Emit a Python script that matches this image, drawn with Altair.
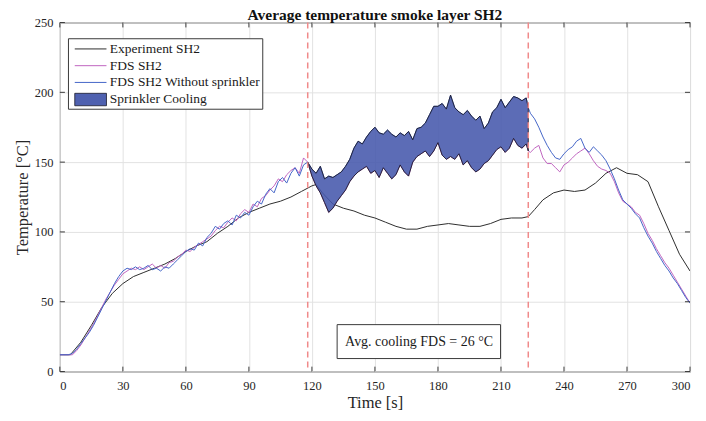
import altair as alt
import pandas as pd

# ---------------- data ----------------
t_fds = list(range(0, 223, 2)) + [223] + list(range(224, 301, 2))

fds_no_sprinkler = [
    12, 12, 12, 13, 16, 20, 24, 28, 33, 39,
    45, 51, 57, 63, 68, 72, 74, 73, 75, 73,
    74, 76, 73, 74, 72, 75, 74, 77, 80, 83,
    86, 88, 87, 92, 90, 96, 99, 104, 102, 106,
    108, 105, 112, 110, 114, 112, 118, 122, 120, 127,
    131, 128, 136, 139, 135, 142, 146, 140, 148, 150,
    145, 142, 147, 138, 140, 139, 141, 143, 147, 152,
    160, 165, 163, 168, 172, 175, 171, 170, 173, 170,
    168, 171, 169, 172, 166, 174, 175, 178, 184, 190,
    190, 192, 188, 198, 189, 186, 184, 187, 183, 180,
    183, 174, 178, 186, 189, 195, 189, 193, 197, 196,
    194, 196,
    189,
    185, 181, 175, 168, 162, 157, 153, 152, 156, 159,
    161, 165, 167, 160, 157, 161, 158, 155, 151, 145,
    138, 130, 123, 120, 117, 113, 110, 103, 97, 92,
    86, 81, 76, 72, 67, 63, 58, 53, 49,
]

fds_sh2 = [
    12, 12, 12, 12, 15, 19, 24, 29, 34, 40,
    46, 52, 57, 62, 66, 70, 72, 74, 73, 75,
    73, 75, 77, 74, 76, 74, 78, 79, 82, 84,
    87, 86, 89, 91, 93, 95, 97, 101, 104, 103,
    107, 110, 108, 113, 116, 114, 120, 118, 124, 126,
    130, 133, 138, 136, 141, 144, 146, 142, 153, 150,
    140, 133, 128, 121, 114, 117, 122, 126, 130, 136,
    140, 143, 145, 147, 142, 144, 139, 146, 142, 138,
    141, 148, 143, 140, 150, 154, 156, 158, 154, 158,
    164, 155, 152, 154, 152, 156, 148, 151, 146, 143,
    145, 149, 151, 155, 159, 161, 157, 160, 167, 162,
    160, 163,
    158,
    157, 160, 162, 153, 149, 149, 146, 143, 148, 150,
    153, 156, 158, 160, 156, 151, 147, 145, 144, 142,
    136, 128, 122, 120, 118, 114, 112, 106, 99, 94,
    88, 83, 78, 74, 69, 64, 59, 54, 49,
]

t_exp = [0, 5, 10, 15, 20, 25, 30, 35, 40, 45, 50, 55, 60, 65, 70, 75, 80, 85,
         90, 95, 100, 105, 110, 115, 120, 122, 125, 130, 135, 140, 145, 150, 155,
         160, 165, 170, 175, 180, 185, 190, 195, 200, 205, 210, 215, 220, 223,
         226, 230, 235, 240, 245, 250, 255, 260, 265, 270, 275, 280, 285, 290,
         295, 300]
exp_sh2 = [12, 12, 21, 33, 46, 56, 63, 68, 71, 74, 77, 81, 86, 90, 93, 99, 104, 110,
           114, 117, 120, 122, 125, 129, 133, 134, 128, 120, 117, 115, 112, 110, 107,
           104, 102, 102, 104, 105, 106, 105, 104, 104, 106, 109, 110, 110, 111,
           116, 123, 128, 130, 129, 130, 135, 142, 146, 142, 141, 136, 118, 101,
           84, 72]

x_ticks = [0, 30, 60, 90, 120, 150, 180, 210, 240, 270, 300]
y_ticks = [0, 50, 100, 150, 200, 250]

sprinkler_start = 118
sprinkler_end = 223
cooling_text = "Avg. cooling FDS = 26 °C"
title_text = "Average temperature smoke layer SH2"

series_names = ["Experiment SH2", "FDS SH2", "FDS SH2 Without sprinkler"]
fill_label = "Sprinkler Cooling"

# ---------------- styles ----------------
FONT = "Liberation Serif"
C_EXP = "#2e2e2e"
C_FDS = "#c065c0"
C_NOS = "#4566c8"
C_FILL = "#4658ac"
C_EDGE = "#1c1c2c"
C_RED = "#f08a8a"
C_FRAME = "#3a3a3a"

# ---------------- frames ----------------
exp_df = pd.DataFrame({"t": t_exp, "T": exp_sh2})
fds_df = pd.DataFrame({"t": t_fds, "T": fds_sh2})
nos_df = pd.DataFrame({"t": t_fds, "T": fds_no_sprinkler})
both = pd.DataFrame({"t": t_fds, "upper": fds_no_sprinkler, "lower": fds_sh2})
area_df = both[(both.t >= sprinkler_start) & (both.t <= sprinkler_end)]
vlines_df = pd.DataFrame({"t": [sprinkler_start, sprinkler_end]})

xs = alt.Scale(domain=[0, 300], nice=False)
ys = alt.Scale(domain=[0, 250], nice=False)

x_axis = alt.Axis(values=x_ticks, title="Time [s]", grid=True, ticks=False, tickSize=0,
                  domain=False, labelPadding=8, titlePadding=3, format="d")
y_axis = alt.Axis(values=y_ticks, title="Temperature [°C]", grid=True, ticks=False, tickSize=0,
                  domain=False, labelPadding=7, titlePadding=4, format="d")


def X(field):
    return alt.X(field, scale=xs, axis=x_axis)


def Y(field):
    return alt.Y(field, scale=ys, axis=y_axis)


def line_layer(df, color):
    return alt.Chart(df).mark_line(color=color, strokeWidth=1, clip=True).encode(
        x=X("t:Q"), y=Y("T:Q"))


exp_layer = line_layer(exp_df, C_EXP)
fds_layer = line_layer(fds_df, C_FDS)
nos_layer = line_layer(nos_df, C_NOS)

area_layer = alt.Chart(area_df).mark_area(
    fill=C_FILL, fillOpacity=0.88, stroke=C_EDGE, strokeWidth=0.9
).encode(x=X("t:Q"), y=Y("upper:Q"), y2="lower:Q")

vlines = alt.Chart(vlines_df).mark_rule(
    color=C_RED, strokeDash=[6, 4], strokeWidth=1.5
).encode(x=X("t:Q"))

# inward tick marks (box ticks)
tick_len_T = 3.5
tick_len_t = 2.4
xt_df = pd.DataFrame({"t": x_ticks * 2,
                      "a": [0] * len(x_ticks) + [250 - tick_len_T] * len(x_ticks),
                      "b": [tick_len_T] * len(x_ticks) + [250] * len(x_ticks)})
yt_df = pd.DataFrame({"T": y_ticks * 2,
                      "a": [0] * len(y_ticks) + [300 - tick_len_t] * len(y_ticks),
                      "b": [tick_len_t] * len(y_ticks) + [300] * len(y_ticks)})
xticks_layer = alt.Chart(xt_df).mark_rule(color=C_FRAME, strokeWidth=1).encode(
    x=X("t:Q"), y=Y("a:Q"), y2="b:Q")
yticks_layer = alt.Chart(yt_df).mark_rule(color=C_FRAME, strokeWidth=1).encode(
    y=Y("T:Q"), x=X("a:Q"), x2="b:Q")

# annotation box
ann_box = pd.DataFrame({"x1": [132.0], "x2": [209.8], "y1": [9.3], "y2": [33.6]})
ann_txt = pd.DataFrame({"t": [171.0], "T": [21.4], "label": [cooling_text]})
ann_rect = alt.Chart(ann_box).mark_rect(fill="white", stroke=C_FRAME, strokeWidth=1).encode(
    x=X("x1:Q"), x2="x2:Q", y=Y("y1:Q"), y2="y2:Q")
ann_text = alt.Chart(ann_txt).mark_text(
    font=FONT, fontSize=14, color="#1a1a1a", align="center", baseline="middle"
).encode(x=X("t:Q"), y=Y("T:Q"), text="label:N")

# chart title, placed just above the frame
title_df = pd.DataFrame({"t": [150.0], "T": [252.1], "label": [title_text]})
title_layer = alt.Chart(title_df).mark_text(
    font=FONT, fontSize=15.5, fontWeight="bold", color="#111111",
    align="center", baseline="alphabetic"
).encode(x=X("t:Q"), y=Y("T:Q"), text="label:N")

# legend (inside plot, top-left)
leg_box = pd.DataFrame({"x1": [4.1], "x2": [96.6], "y1": [187.9], "y2": [238.4]})
leg_rows_T = [231.1, 219.1, 207.1, 195.0]
leg_lines = pd.DataFrame({"x1": [7.1] * 3, "x2": [22.2] * 3, "T": leg_rows_T[:3],
                          "series": series_names})
leg_patch = pd.DataFrame({"x1": [7.1], "x2": [22.2], "y1": [190.4], "y2": [199.3]})
leg_text = pd.DataFrame({"t": [23.8] * 4, "T": leg_rows_T,
                         "label": series_names + [fill_label]})

leg_rect = alt.Chart(leg_box).mark_rect(fill="white", stroke=C_FRAME, strokeWidth=1).encode(
    x=X("x1:Q"), x2="x2:Q", y=Y("y1:Q"), y2="y2:Q")
leg_rules = alt.Chart(leg_lines).mark_rule(strokeWidth=1).encode(
    x=X("x1:Q"), x2="x2:Q", y=Y("T:Q"),
    color=alt.Color("series:N", scale=alt.Scale(domain=series_names,
                                                range=[C_EXP, C_FDS, C_NOS]), legend=None))
leg_fill = alt.Chart(leg_patch).mark_rect(fill=C_FILL, fillOpacity=0.95, stroke=C_EDGE,
                                          strokeWidth=0.8).encode(
    x=X("x1:Q"), x2="x2:Q", y=Y("y1:Q"), y2="y2:Q")
leg_labels = alt.Chart(leg_text).mark_text(
    font=FONT, fontSize=13.5, color="#1a1a1a", align="left", baseline="middle"
).encode(x=X("t:Q"), y=Y("T:Q"), text="label:N")

chart = alt.layer(
    exp_layer, fds_layer, nos_layer, area_layer, vlines,
    xticks_layer, yticks_layer,
    ann_rect, ann_text,
    leg_rect, leg_rules, leg_fill, leg_labels,
    title_layer,
).properties(
    width=632, height=350,
    autosize=alt.AutoSizeParams(type="none"),
    padding={"left": 52, "top": 14, "right": 8, "bottom": 40},
).configure_view(
    stroke=C_FRAME, strokeWidth=1
).configure_axis(
    labelFont=FONT, labelFontSize=12.5, labelColor="#262626",
    titleFont=FONT, titleFontSize=16.5, titleFontWeight="normal", titleColor="#262626",
    gridColor="#e2e2e2", gridWidth=1,
)

chart.save("out.html", embed_options={"renderer": "svg", "actions": False})
